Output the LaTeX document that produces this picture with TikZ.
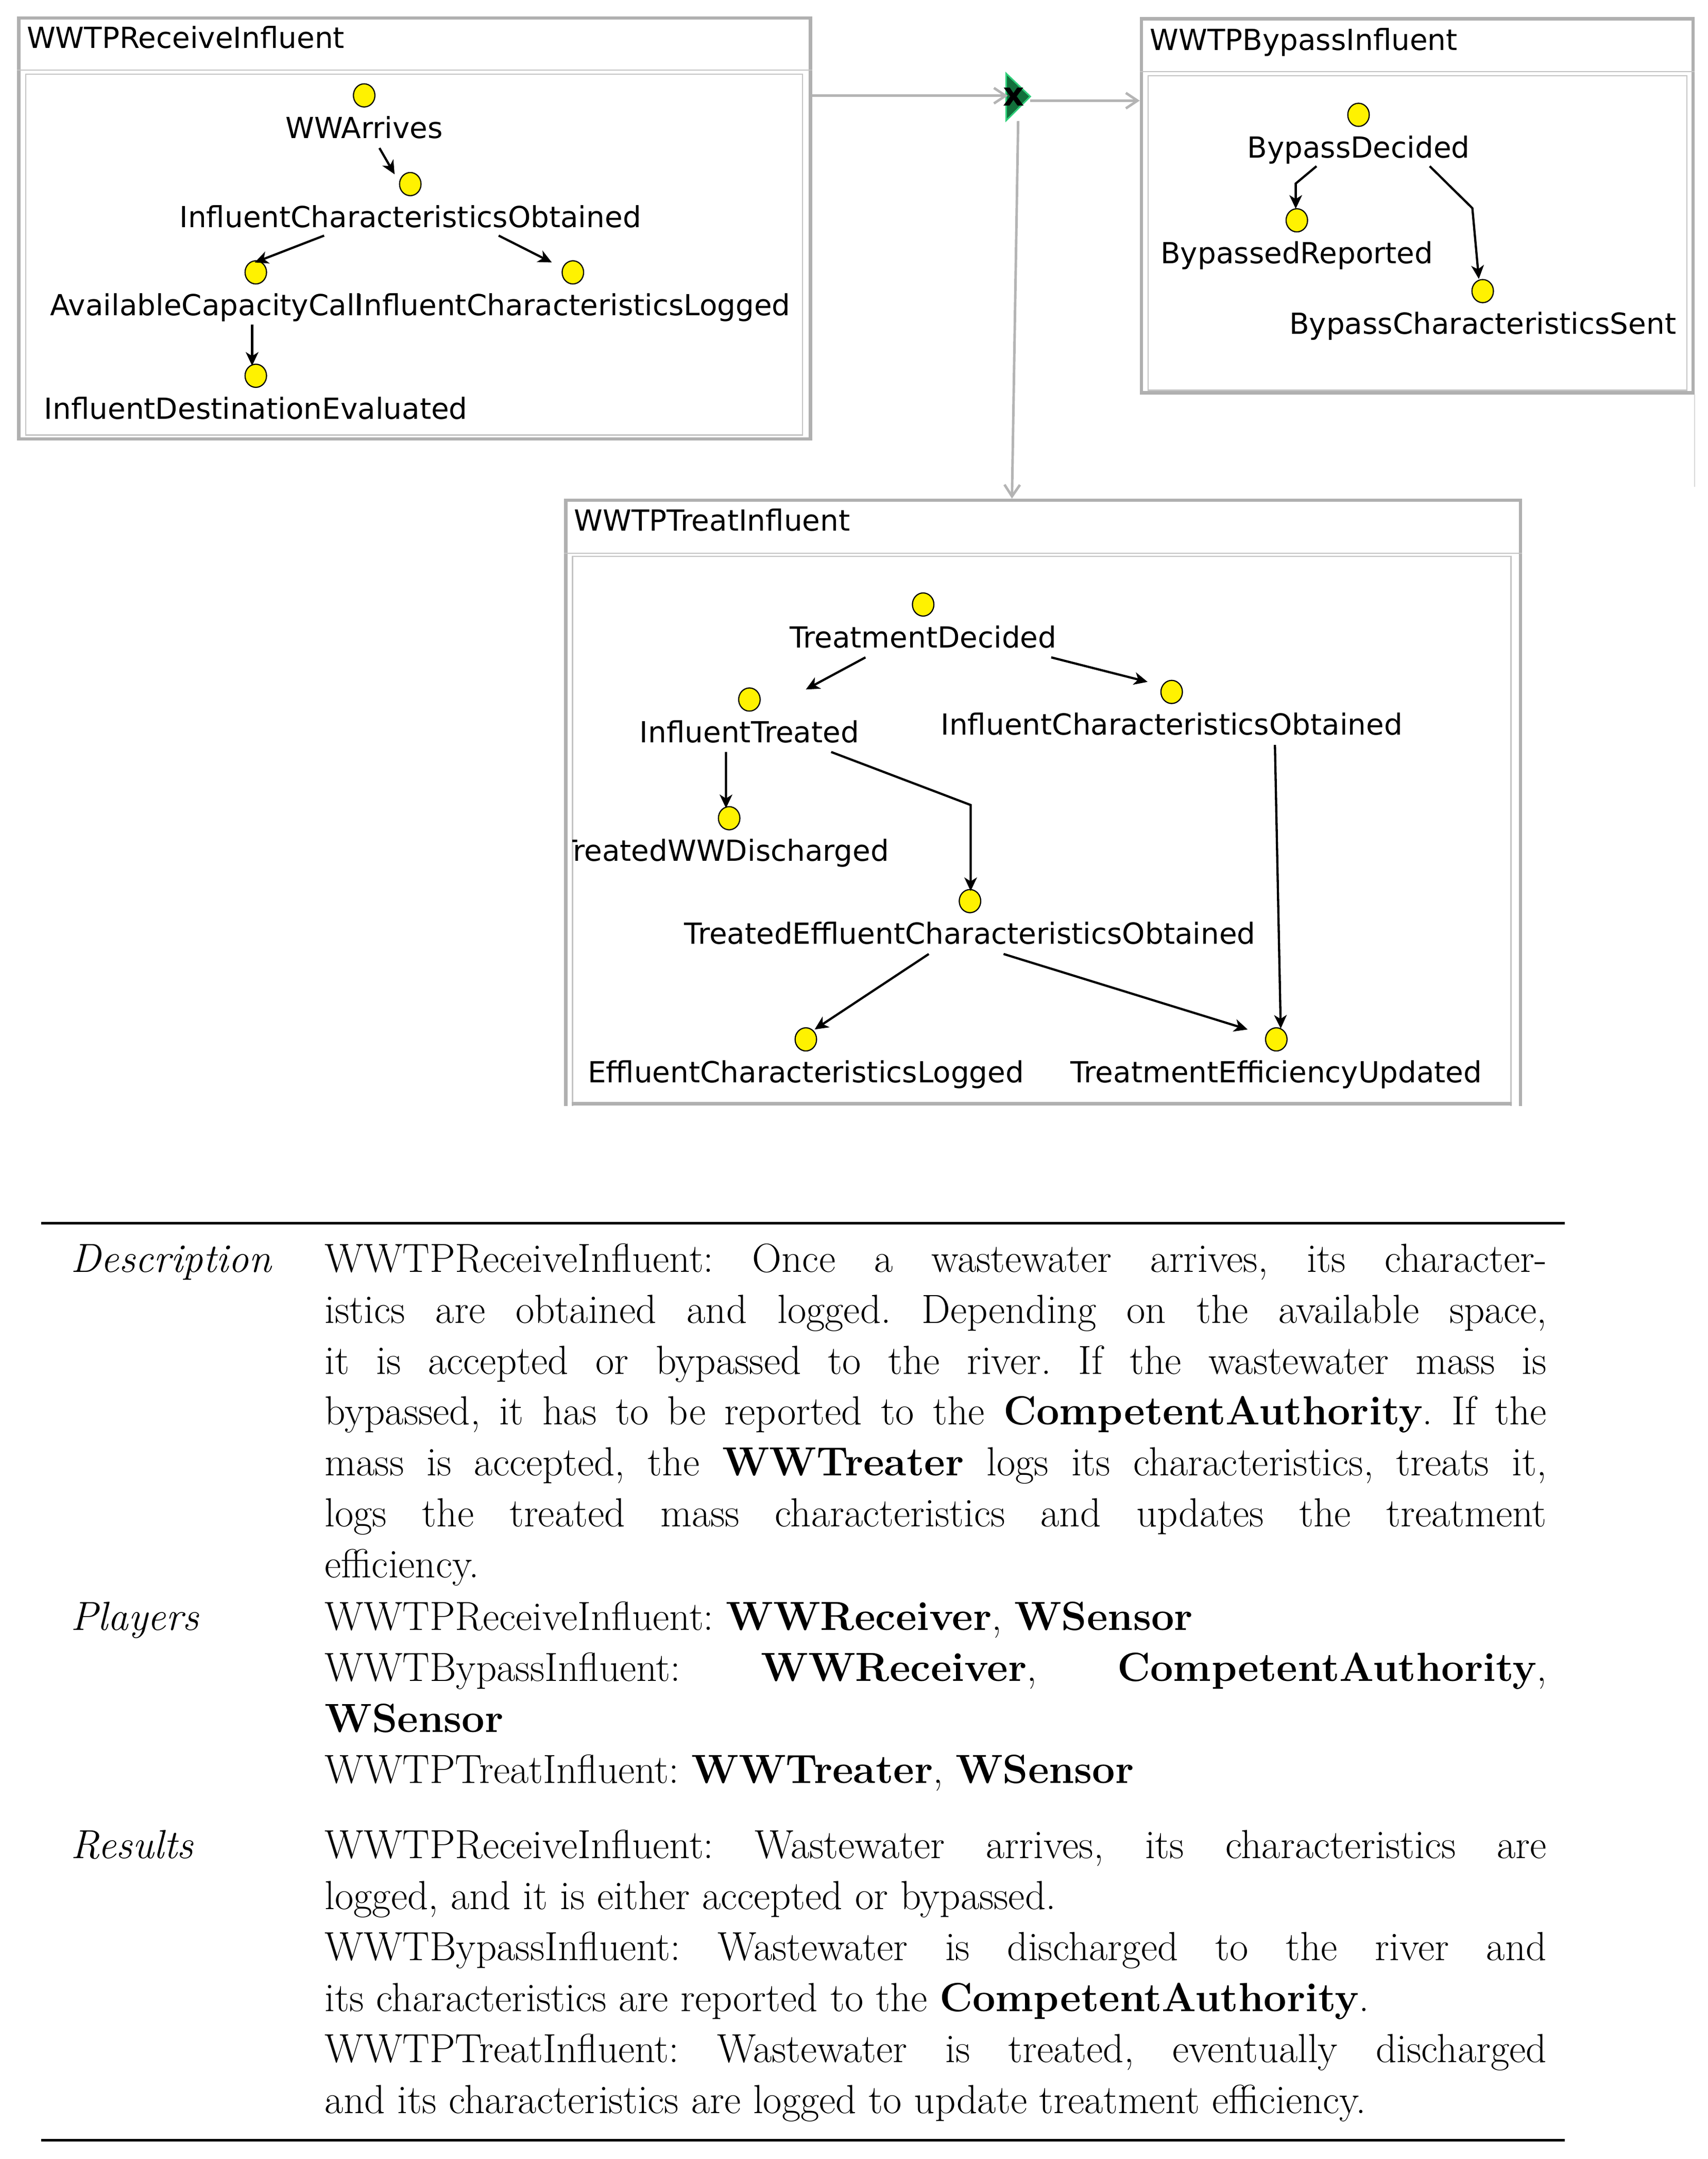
\documentclass[tikz,border=0pt]{standalone}
\usepackage{fontspec}
\usepackage{tikz}
\usetikzlibrary{arrows.meta,shapes.geometric,fit}
\newfontfamily\evsans{DejaVu Sans}
\newcommand{\evfont}{\evsans\fontsize{15pt}{17.5pt}\selectfont}
\newcommand{\bodyfont}{\fontsize{21pt}{26.3pt}\selectfont\frenchspacing\tolerance=10000\hyphenpenalty=10000\relax}
\definecolor{boxgray}{HTML}{B0B0B0}
\definecolor{innergray}{HTML}{C4C4C4}
\definecolor{flowgray}{HTML}{B4B4B4}
\definecolor{gwfill}{HTML}{12703B}
\definecolor{gwline}{HTML}{2FD07A}
\tikzset{
  evdot/.style={ellipse, draw=black, line width=0.6pt, fill=yellow, inner sep=0pt, minimum width=0.39cm, minimum height=0.42cm},
  evlbl/.style={font=\evfont, inner sep=0pt, anchor=base},
  ev/.style={line width=1.15pt, -{Stealth[length=7pt,width=6.5pt,inset=2pt]}},
  flow/.style={flowgray, line width=1.3pt, -{Straight Barb[length=6pt,width=8pt]}},
  outerbox/.style={draw=boxgray, line width=1.7pt, inner sep=0pt},
  innerbox/.style={draw=innergray, line width=0.65pt, inner sep=0pt},
  boxtitle/.style={font=\evfont, inner sep=0pt, anchor=base west},
  rowlbl/.style={font=\bodyfont\itshape, inner sep=0pt, anchor=base west},
  rowtxt/.style={font=\bodyfont, inner sep=0pt, anchor=base west, text width=22.18cm, align=justify}
}
% event: dot and its label underneath
\newcommand{\evt}[4]{\node[evdot] (#1) at (#2,#3) {};
  \node[evlbl] (#1l) at ([shift={(0,31.3)}]#1.center) {#4};}

\begin{document}
\begin{tikzpicture}[x=0.025cm, y=-0.025cm]
\useasboundingbox (0,0) rectangle (1240.2,1567.9);

% WWTPReceiveInfluent
\node[outerbox, fit={(13.7,13.1) (588.7,318.8)}] (recv) {};
\node[innerbox, fit={(18.8,53.8) (582.8,316)}] (recvin) {};
\draw[innergray, line width=0.65pt] (recv.west |- 0,50.9) -- (recv.east |- 0,50.9);
\node[boxtitle] (recvt) at (19.2,35.1) {WWTPReceiveInfluent};
\evt{wwa}{264.5}{69.3}{WWArrives}
\evt{ico}{298}{133.7}{InfluentCharacteristicsObtained}
\evt{icl}{416.1}{197.8}{InfluentCharacteristicsLogged}
\node[evdot] (acc) at (185.8,197.8) {};
\node[evlbl, anchor=base east] (accl) at ([shift={(6,0)}]icll.base west) {AvailableCapacityCall};
\evt{ide}{185.8}{272.9}{InfluentDestinationEvaluated}
\draw[ev] ([shift={(11.1,38.2)}]wwa.center) -- ([shift={(-11.4,-7.1)}]ico.center);
\draw[ev] ([shift={(-62.6,37.4)}]ico.center) -- ([shift={(-0.8,-7.2)}]acc.center);
\draw[ev] ([shift={(64.2,37.4)}]ico.center) -- ([shift={(-15.3,-7.2)}]icl.center);
\draw[ev] ([shift={(-2.7,37.8)}]acc.center) -- ([shift={(-2.7,-7.3)}]ide.center);

% WWTPBypassInfluent
\node[outerbox, fit={(829,13.6) (1229.6,285.3)}] (byp) {};
\node[innerbox, fit={(833.8,55) (1225.2,283.4)}] (bypin) {};
\draw[innergray, line width=0.65pt] (byp.west |- 0,52.1) -- (byp.east |- 0,52.1);
\node[boxtitle] (bypt) at (834.9,36.5) {WWTPBypassInfluent};
\draw[black!15, line width=0.5pt] (byp.south east) -- ++(0,67);
\evt{bd}{986.7}{83.4}{BypassDecided}
\evt{br}{941.9}{160}{BypassedReported}
\evt{bcs}{1076.9}{211.4}{BypassCharacteristicsSent}
\draw[ev] ([shift={(-30.5,37.3)}]bd.center) -- ([shift={(-0.8,-26.7)}]br.center) -- ([shift={(-0.8,-8.4)}]br.center);
\draw[ev] ([shift={(51.7,37.3)}]bd.center) -- ([shift={(-7.5,-60.2)}]bcs.center) -- ([shift={(-2.8,-8.8)}]bcs.center);

% WWTPTreatInfluent (cut at the bottom)
\begin{scope}
  \clip (0,0) rectangle (1240.2,803);
  \node[outerbox, fit={(411,363.3) (1104.4,815)}] (treat) {};
  \node[innerbox, fit={(415.8,404) (1097.4,815)}] (treatin) {};
\end{scope}
\draw[boxgray, line width=1.9pt] (treatin.west |- 0,801.6) -- (treatin.east |- 0,801.6);
\draw[innergray, line width=0.65pt] (treat.west |- 0,401.8) -- (treat.east |- 0,401.8);
\node[boxtitle] (treatt) at (416.8,385.7) {WWTPTreatInfluent};
\evt{td}{670.5}{439}{TreatmentDecided}
\evt{it}{544.3}{508}{InfluentTreated}
\evt{icob}{851}{502.5}{InfluentCharacteristicsObtained}
\begin{scope}
  \clip (415.8,404) rectangle (1097.4,801.4);
  \node[evdot] (twwd) at (529.6,594.2) {};
  \node[evlbl] (twwdl) at ([shift={(-3.5,31.3)}]twwd.center) {TreatedWWDischarged};
\end{scope}
\evt{teco}{704.5}{654.4}{TreatedEffluentCharacteristicsObtained}
\evt{ecl}{585.3}{754.8}{EffluentCharacteristicsLogged}
\evt{teu}{927}{754.8}{TreatmentEfficiencyUpdated}
\draw[ev] ([shift={(-41.9,38.4)}]td.center) -- ([shift={(41,-7.3)}]it.center);
\draw[ev] ([shift={(93,38.4)}]td.center) -- ([shift={(-17.5,-7.3)}]icob.center);
\draw[ev] ([shift={(-17,38.1)}]it.center) -- ([shift={(-2.3,-7.3)}]twwd.center);
\draw[ev] ([shift={(59.4,38.1)}]it.center) -- ([shift={(0.5,-69.8)}]teco.center) -- ([shift={(0.5,-7.3)}]teco.center);
\draw[ev] ([shift={(75,38.4)}]icob.center) -- ([shift={(3.2,-7.8)}]teu.center);
\draw[ev] ([shift={(-29.9,38.4)}]teco.center) -- ([shift={(6.4,-7.2)}]ecl.center);
\draw[ev] ([shift={(24.4,38.4)}]teco.center) -- ([shift={(-20.8,-7.2)}]teu.center);

% exclusive gateway
\filldraw[fill=gwfill, draw=gwline, line width=0.8pt] (730.8,53.4) -- (748.3,70.1) -- (730.8,87.5) -- cycle;
\node[font=\evsans\bfseries\fontsize{17pt}{17pt}\selectfont, inner sep=0pt] (gw) at (736.4,70.2) {x};
\coordinate (gwin) at (732,69.5);
\coordinate (gwout) at (748.3,73.1);
\coordinate (gwdown) at (739.5,87.9);
\draw[flow] (recv.east |- gwin) -- (gwin);
\draw[flow] (gwout) -- (byp.west |- gwout);
\draw[flow] (gwdown) -- ([shift={(-22.7,0)}]treat.north);

% table
\draw[line width=1.38pt] (30,888.4) -- (1136.6,888.4);
\node[rowlbl] (desc) at (51.2,923.8) {Description};
\node[rowtxt] (desctxt) at (235.7,923.8) {WWTPReceiveInfluent: Once a wastewater arrives, its character-\linebreak
istics are obtained and logged. Depending on the available space,\linebreak
it is accepted or bypassed to the river. If the wastewater mass is\linebreak
bypassed, it has to be reported to the \textbf{CompetentAuthority}. If the\linebreak
mass is accepted, the \textbf{WWTreater} logs its characteristics, treats it,\linebreak
logs the treated mass characteristics and updates the treatment\linebreak
efficiency.};
\node[rowlbl] (play) at (51.2,1184) {Players};
\node[rowtxt] (playtxt) at (235.7,1184) {WWTPReceiveInfluent: \textbf{WWReceiver}, \textbf{WSensor}\\
WWTBypassInfluent: \textbf{WWReceiver}, \textbf{CompetentAuthority},\linebreak
\textbf{WSensor}\\
WWTPTreatInfluent: \textbf{WWTreater}, \textbf{WSensor}};
\node[rowlbl] (res) at (51.2,1349.7) {Results};
\node[rowtxt] (restxt) at (235.7,1349.7) {WWTPReceiveInfluent: Wastewater arrives, its characteristics are\linebreak
logged, and it is either accepted or bypassed.\\
WWTBypassInfluent: Wastewater is discharged to the river and\linebreak
its characteristics are reported to the \textbf{CompetentAuthority}.\\
WWTPTreatInfluent: Wastewater is treated, eventually discharged\linebreak
and its characteristics are logged to update treatment efficiency.};
\draw[line width=1.38pt] (30,1554.3) -- (1136.6,1554.3);
\end{tikzpicture}
\end{document}
